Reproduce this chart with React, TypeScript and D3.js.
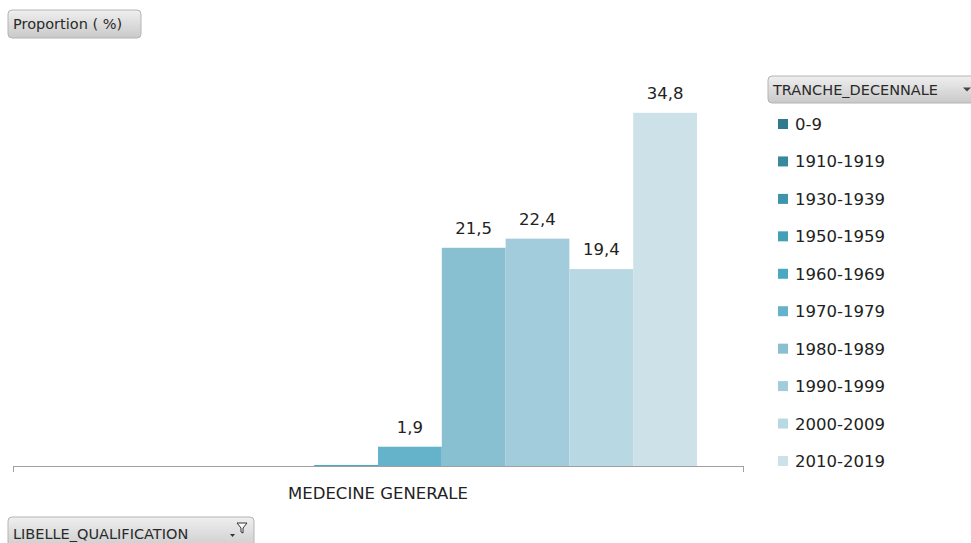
import React from 'react';
import * as d3 from 'd3';

const categories = ['MEDECINE GENERALE'];
const series = ['0-9', '1910-1919', '1930-1939', '1950-1959', '1960-1969', '1970-1979', '1980-1989', '1990-1999', '2000-2009', '2010-2019'];
// proportion (%) per decade, MEDECINE GENERALE
const values = [0, 0, 0, 0, 0.1, 1.9, 21.5, 22.4, 19.4, 34.8];
const labels = ['', '', '', '', '', '1,9', '21,5', '22,4', '19,4', '34,8'];
const colors = ['#2f7a8c', '#37899b', '#3e95a9', '#44a0b6', '#4aa8c2', '#64b3cb', '#88c0d1', '#a2ccdc', '#b8d8e3', '#cde1e9'];

const W = 971;
const H = 543;
const FONT = '"DejaVu Sans", sans-serif';

const Button = ({ x, y, w, h, text, icon }) => (
  <g>
    <rect x={x} y={y} width={w} height={h} rx={4} fill="url(#btnGrad)" stroke="#b4b4b4" />
    <text x={x + 5} y={y + h / 2 + 5} fontSize={14.5} fill="#2a2a2a" fontFamily={FONT}>{text}</text>
    {icon === 'arrow' && <path d={`M${x + w - 15},${y + h / 2 - 2} l8,0 l-4,4 z`} fill="#444" />}
    {icon === 'filter' && (
      <g>
        <path d={`M${x + w - 17},${y + 6} l10,0 l-4,5 l0,5 l-2,-1 l0,-4 z`} fill="#fff" stroke="#333" strokeWidth={1} />
        <path d={`M${x + w - 24},${y + 17} l5,0 l-2.5,3 z`} fill="#333" />
      </g>
    )}
  </g>
);

const App = () => {
  const baseline = 466;
  const x0 = d3.scaleBand().domain(categories).range([13, 743]).paddingInner(0).paddingOuter(0.0721);
  const x1 = d3.scaleBand().domain(series).range([0, x0.bandwidth()]).padding(0);
  const y = d3.scaleLinear().domain([0, 40]).range([baseline, 60]);

  const legendY = d3.scalePoint().domain(series).range([124, 461]);

  return (
    <div style={{ position: 'absolute', left: 0, top: 0 }}>
      <svg width={W} height={H} style={{ display: 'block' }}>
        <defs>
          <linearGradient id="btnGrad" x1="0" y1="0" x2="0" y2="1">
            <stop offset="0" stopColor="#efefef" />
            <stop offset="1" stopColor="#c9c9c9" />
          </linearGradient>
        </defs>
        <rect width={W} height={H} fill="#fff" />

        <Button x={8} y={10} w={133} h={28} text="Proportion ( %)" />
        <Button x={768} y={76} w={210} h={27} text="TRANCHE_DECENNALE" icon="arrow" />
        <Button x={8} y={517} w={246} h={34} text="LIBELLE_QUALIFICATION" icon="filter" />

        {categories.map((c, ci) => (
          <g key={c} transform={`translate(${x0(c)},0)`}>
            {series.map((s, si) => {
              const v = values[si];
              if (!v) return null;
              return (
                <g key={s}>
                  <rect x={x1(s)} y={y(v)} width={x1.bandwidth()} height={baseline - y(v)} fill={colors[si]} />
                  {labels[si] && (
                    <text x={x1(s) + x1.bandwidth() / 2} y={y(v) - 14} textAnchor="middle" fontSize={16.5} fill="#222" fontFamily={FONT}>
                      {labels[si]}
                    </text>
                  )}
                </g>
              );
            })}
          </g>
        ))}

        <line x1={13} x2={743} y1={baseline + 0.5} y2={baseline + 0.5} stroke="#a0a0a0" />
        <line x1={13.5} x2={13.5} y1={baseline} y2={baseline + 6} stroke="#a0a0a0" />
        <line x1={743.5} x2={743.5} y1={baseline} y2={baseline + 6} stroke="#a0a0a0" />

        {categories.map(c => (
          <text key={c} x={x0(c) + x0.bandwidth() / 2} y={499} textAnchor="middle" fontSize={16.5} fill="#222" fontFamily={FONT}>{c}</text>
        ))}

        {series.map((s, i) => (
          <g key={s}>
            <rect x={778} y={legendY(s) - 5} width={10} height={10} fill={colors[i]} />
            <text x={795} y={legendY(s) + 6} fontSize={16.5} fill="#222" fontFamily={FONT}>{s}</text>
          </g>
        ))}
      </svg>
    </div>
  );
};

export default App;
